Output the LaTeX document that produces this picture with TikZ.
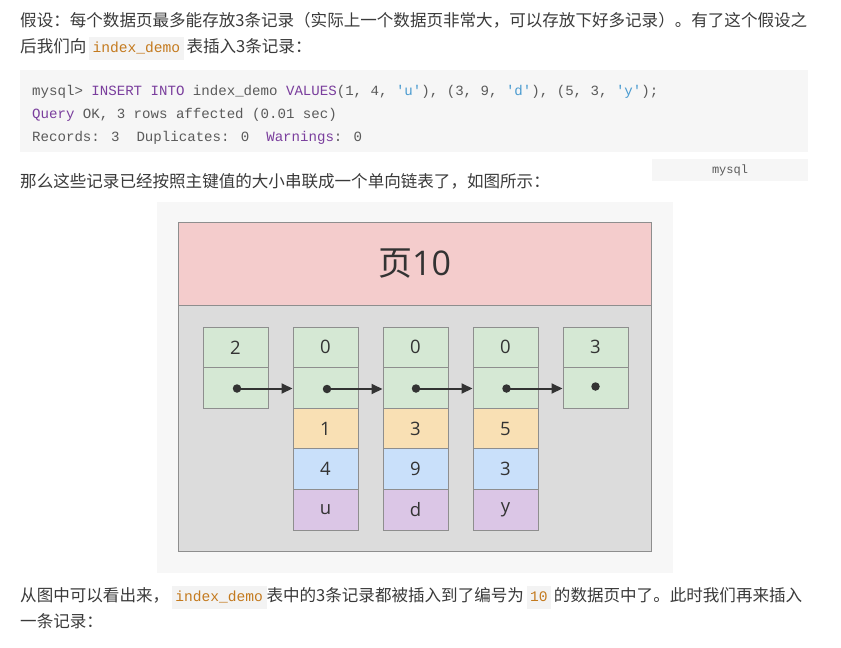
\documentclass[tikz,border=0pt]{standalone}
\usepackage{fontspec}
\setmainfont{Noto Sans CJK SC}
\newfontfamily\codefont{Liberation Mono}
\newfontfamily\digfont{Open Sans}
\usetikzlibrary{arrows.meta}
\definecolor{txtc}{HTML}{3A3A3A}
\definecolor{codebg}{HTML}{F6F6F6}
\definecolor{codec}{HTML}{5A5A5A}
\definecolor{kwc}{HTML}{7A3E9D}
\definecolor{strc}{HTML}{4A9BD0}
\definecolor{inc}{HTML}{C47A1E}
\definecolor{inbg}{HTML}{F3F3F3}
\definecolor{dgbg}{HTML}{F7F7F7}
\definecolor{pinkc}{HTML}{F4CCCC}
\definecolor{grayc}{HTML}{DCDCDC}
\definecolor{greenc}{HTML}{D5E8D4}
\definecolor{orangec}{HTML}{F9E0B4}
\definecolor{bluec}{HTML}{C9E0FA}
\definecolor{purplec}{HTML}{DBC6E6}
\definecolor{bordc}{HTML}{8E8E8E}
\definecolor{inkc}{HTML}{333333}
\newcommand{\icode}[1]{{\setlength{\fboxsep}{3.5pt}\colorbox{inbg}{\codefont\fontsize{14.6}{16}\selectfont\color{inc}\strut #1}}}
\begin{document}
\begin{tikzpicture}[x=1pt,y=-1pt,
  txt/.style={anchor=base west,inner sep=0pt,text=txtc,font=\fontsize{16.55}{20}\selectfont},
  codeln/.style={anchor=base west,inner sep=0pt,text=codec,font=\codefont\fontsize{14.1}{16}\selectfont},
  cell/.style={draw=bordc,line width=1pt,minimum width=65pt,minimum height=40.6pt,inner sep=0pt,text=inkc,font=\digfont\fontsize{18.5}{20}\selectfont},
  grn/.style={cell,fill=greenc},
  org/.style={cell,fill=orangec},
  blu/.style={cell,fill=bluec},
  pur/.style={cell,fill=purplec},
  dot/.style={circle,fill=inkc,inner sep=0pt,minimum size=8.5pt},
  link/.style={draw=inkc,line width=2pt,-{Triangle[length=11pt,width=10pt]}}]
\useasboundingbox (0,0) rectangle (841,648);
\fill[white] (0,0) rectangle (841,648);

% paragraph 1
\node[txt] (p1) at (20,26) {假设：每个数据页最多能存放3条记录（实际上一个数据页非常大，可以存放下好多记录）。有了这个假设之};
\node[txt] (p2) at (20,52) {后我们向\,\icode{index\_demo}\,表插入3条记录：};

% code block
\node[fill=codebg,anchor=north west,minimum width=788pt,minimum height=82pt,inner sep=0pt] (cb) at (20,70) {};
\node[codeln] (c1) at (32,95) {mysql> \textcolor{kwc}{INSERT INTO} index\_demo \textcolor{kwc}{VALUES}(1, 4, \textcolor{strc}{'u'}), (3, 9, \textcolor{strc}{'d'}), (5, 3, \textcolor{strc}{'y'});};
\node[codeln] (c2) at (32,118) {\textcolor{kwc}{Query} OK, 3 rows affected (0.01 sec)};
\node[codeln] (c3) at (32,141) {Records: 3~~Duplicates: 0~~\textcolor{kwc}{Warnings}: 0};

% language tag
\node[fill=codebg,minimum width=156pt,minimum height=22pt,inner sep=0pt,text=codec,font=\codefont\fontsize{12}{14}\selectfont] (tag) at (730,170) {mysql};

% paragraph 2
\node[txt] (p3) at (20,187) {那么这些记录已经按照主键值的大小串联成一个单向链表了，如图所示：};

% diagram
\node[fill=dgbg,minimum width=516pt,minimum height=371pt,inner sep=0pt] (dg) at (415,387.5) {};
\node[draw=bordc,line width=1pt,fill=pinkc,minimum width=473pt,minimum height=83pt,inner sep=0pt,text=inkc] (hd) at (414.5,263.5) {\fontsize{34}{36}\selectfont 页{\digfont 10}};
\node[draw=bordc,line width=1pt,fill=grayc,minimum width=473pt,minimum height=246pt,inner sep=0pt] (bd) at (414.5,428) {};

% infimum
\node[grn] (a1) at (235.5,347.3) {2};
\node[grn] (a2) at (235.5,387.9) {};
% records
\node[grn] (b1) at (325.5,347.3) {0};
\node[grn] (b2) at (325.5,387.9) {};
\node[org] (b3) at (325.5,428.5) {1};
\node[blu] (b4) at (325.5,469.1) {4};
\node[pur] (b5) at (325.5,509.7) {u};
\node[grn] (c1x) at (415.5,347.3) {0};
\node[grn] (c2x) at (415.5,387.9) {};
\node[org] (c3x) at (415.5,428.5) {3};
\node[blu] (c4x) at (415.5,469.1) {9};
\node[pur] (c5x) at (415.5,509.7) {d};
\node[grn] (d1) at (505.5,347.3) {0};
\node[grn] (d2) at (505.5,387.9) {};
\node[org] (d3) at (505.5,428.5) {5};
\node[blu] (d4) at (505.5,469.1) {3};
\node[pur] (d5) at (505.5,509.7) {y};
% supremum
\node[grn] (e1) at (595.5,347.3) {3};
\node[grn] (e2) at (595.5,387.9) {};

% pointers
\node[dot] (pa) at (237,388.5) {};
\node[dot] (pb) at (327,389) {};
\node[dot] (pc) at (416,388.5) {};
\node[dot] (pd) at (506.5,388.5) {};
\node[dot] (pe) at (595.5,386.5) {};
\draw[link] (pa.center) -- (pa.center -| b2.west);
\draw[link] (pb.center) -- (pb.center -| c2x.west);
\draw[link] (pc.center) -- (pc.center -| d2.west);
\draw[link] (pd.center) -- (pd.center -| e2.west);

% paragraph 3
\node[txt] (p4) at (20,601) {从图中可以看出来，\,\icode{index\_demo}表中的3条记录都被插入到了编号为\,\icode{10}\,的数据页中了。此时我们再来插入};
\node[txt] (p5) at (20,627) {一条记录：};
\end{tikzpicture}
\end{document}
